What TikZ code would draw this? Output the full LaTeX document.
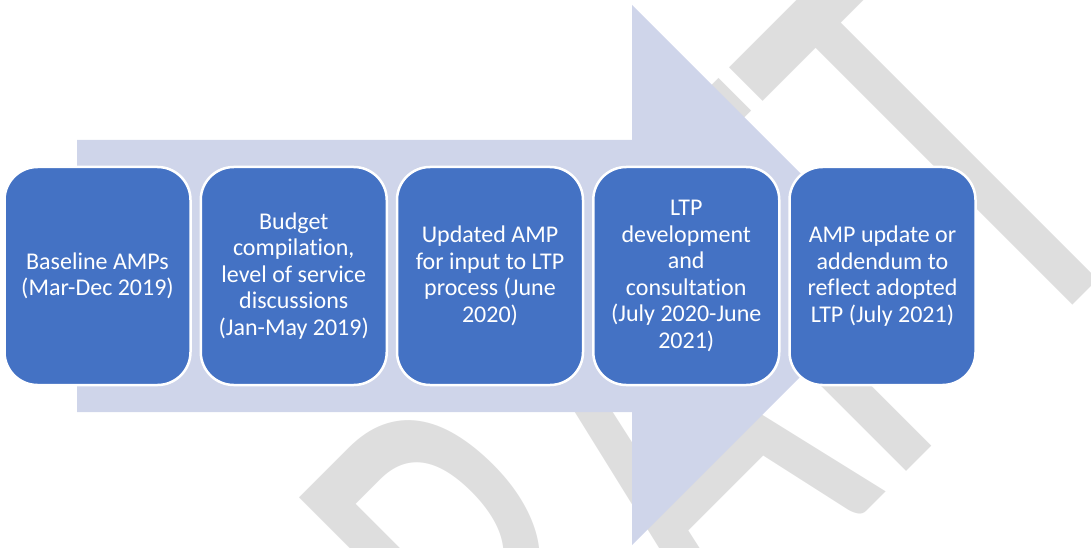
\documentclass[tikz,border=0pt]{standalone}
\usepackage{fontspec}
\setmainfont{Carlito}[Ligatures=NoCommon]
\usetikzlibrary{positioning}
\definecolor{stageblue}{HTML}{4472C4}
\definecolor{arrowgrey}{HTML}{CFD5EA}
\definecolor{markgrey}{HTML}{DEDEDE}
\begin{document}
\begin{tikzpicture}[x=1pt, y=1pt, node distance=196.25pt,
    stage/.style={rectangle, rounded corners=33pt, fill=stageblue, draw=white, line width=2.5pt, minimum width=186pt, minimum height=218pt, inner sep=0pt, text=white, align=center, font=\fontsize{24}{26.5}\selectfont}]
  \useasboundingbox (0,0) rectangle (1091,547);
  \clip (0,0) rectangle (1091,547);

  \node[text=markgrey, inner sep=0pt, anchor=base, rotate=45, yscale=1.6, font=\fontsize{400}{400}\selectfont] (draft) at (775.3,-55.7) {DRAFT};

  \fill[arrowgrey] (77,135) -- (632,135) -- (632,2) -- (902,272) -- (632,542) -- (632,407) -- (77,407) -- cycle;

  \node[stage] (1) at (97.5,271) {Baseline AMPs\\(Mar-Dec 2019)};
  \node[stage] (2) [right of=1] {Budget\\compilation,\\level of service\\discussions\\(Jan-May 2019)};
  \node[stage] (3) [right of=2] {Updated AMP\\for input to LTP\\process (June\\2020)};
  \node[stage] (4) [right of=3] {LTP\\development\\and\\consultation\\(July 2020-June\\2021)};
  \node[stage] (5) [right of=4] {AMP update or\\addendum to\\reflect adopted\\LTP (July 2021)};
\end{tikzpicture}
\end{document}
